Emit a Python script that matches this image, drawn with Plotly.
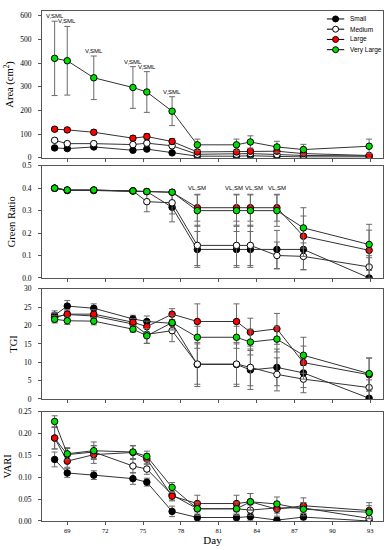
import plotly.graph_objects as go
from plotly.subplots import make_subplots

days = [68, 69, 71.1, 74.2, 75.3, 77.3, 79.3, 82.4, 83.5, 85.6, 87.7, 92.9]
x_ticks = [69, 72, 75, 78, 81, 84, 87, 90, 93]
series_names = ["Small", "Medium", "Large", "Very Large"]

# Area (cm2)
area_small = [42, 39, 46, 32, 37, 21, 7, 7, 9, 6, 4, 4]
area_small_err = [5, 5, 6, 5, 6, 5, 3, 3, 3, 3, 3, 3]
area_medium = [74, 60, 60, 56, 62, 51, 15, 15, 18, 14, 10, 8]
area_medium_err = [8, 6, 6, 6, 8, 8, 5, 5, 5, 5, 5, 5]
area_large = [121, 118, 108, 83, 90, 69, 25, 25, 28, 28, 18, 10]
area_large_err = [8, 8, 10, 10, 12, 12, 8, 8, 8, 8, 8, 6]
area_vlarge = [420, 410, 338, 297, 278, 197, 55, 55, 67, 46, 35, 49]
area_vlarge_err = [157, 145, 92, 88, 86, 61, 24, 24, 26, 24, 22, 30]

# Green Ratio
gr_small = [0.40, 0.39, 0.39, 0.388, 0.385, 0.315, 0.127, 0.127, 0.127, 0.127, 0.127, 0.0]
gr_small_err = [0.005, 0.005, 0.005, 0.005, 0.01, 0.065, 0.08, 0.08, 0.08, 0.085, 0.09, 0.09]
gr_medium = [0.40, 0.39, 0.39, 0.388, 0.34, 0.335, 0.145, 0.145, 0.145, 0.10, 0.096, 0.049]
gr_medium_err = [0.005, 0.005, 0.005, 0.005, 0.045, 0.05, 0.09, 0.09, 0.09, 0.06, 0.06, 0.05]
gr_large = [0.40, 0.392, 0.392, 0.388, 0.385, 0.382, 0.313, 0.313, 0.313, 0.313, 0.186, 0.123]
gr_large_err = [0.005, 0.005, 0.005, 0.005, 0.005, 0.005, 0.06, 0.06, 0.06, 0.06, 0.09, 0.09]
gr_vlarge = [0.40, 0.392, 0.392, 0.388, 0.385, 0.382, 0.30, 0.30, 0.30, 0.30, 0.223, 0.149]
gr_vlarge_err = [0.005, 0.005, 0.005, 0.005, 0.005, 0.005, 0.07, 0.07, 0.07, 0.07, 0.09, 0.09]

# TGI
tgi_small = [22.8, 25.3, 24.7, 21.8, 21.1, 20.6, 9.4, 9.4, 7.9, 8.6, 7.1, 0.2]
tgi_small_err = [1.2, 1.5, 1.2, 1.0, 1.5, 2.0, 6, 6, 5.3, 5, 4, 5]
tgi_medium = [22.3, 23.0, 22.6, 20.4, 17.6, 18.6, 9.5, 9.5, 8.6, 6.7, 5.4, 3.1]
tgi_medium_err = [1.2, 1.2, 1.2, 1.0, 2.5, 3.0, 5.5, 5.5, 5, 4.5, 3.7, 3.5]
tgi_large = [22.2, 23.1, 23.1, 20.9, 19.7, 23.1, 21.1, 21.1, 18.2, 19.1, 9.9, 6.6]
tgi_large_err = [1.2, 1.2, 1.2, 1.0, 1.5, 1.5, 4.8, 4.8, 3.8, 4.2, 4.5, 4.5]
tgi_vlarge = [21.7, 21.3, 21.2, 19.0, 17.2, 20.8, 16.8, 16.8, 15.5, 16.3, 11.9, 6.9]
tgi_vlarge_err = [1, 1, 1, 0.8, 2, 2, 3, 3, 3.5, 3.5, 4.9, 4.3]

# VARI
vari_small = [0.141, 0.110, 0.105, 0.097, 0.089, 0.022, 0.008, 0.008, 0.010, 0.002, 0.009, 0.0]
vari_small_err = [0.017, 0.01, 0.01, 0.013, 0.009, 0.012, 0.006, 0.006, 0.008, 0.005, 0.006, 0.005]
vari_medium = [0.19, 0.152, 0.158, 0.126, 0.119, 0.06, 0.028, 0.028, 0.025, 0.03, 0.03, 0.006]
vari_medium_err = [0.025, 0.014, 0.015, 0.015, 0.012, 0.012, 0.012, 0.012, 0.012, 0.012, 0.012, 0.01]
vari_large = [0.19, 0.137, 0.152, 0.157, 0.142, 0.057, 0.04, 0.04, 0.044, 0.027, 0.035, 0.024]
vari_large_err = [0.025, 0.014, 0.02, 0.015, 0.012, 0.011, 0.019, 0.019, 0.019, 0.016, 0.018, 0.018]
vari_vlarge = [0.228, 0.154, 0.161, 0.158, 0.148, 0.077, 0.028, 0.028, 0.044, 0.039, 0.027, 0.02]
vari_vlarge_err = [0.013, 0.014, 0.02, 0.015, 0.012, 0.011, 0.015, 0.015, 0.019, 0.016, 0.015, 0.015]

area_sig_idx = [0, 1, 2, 3, 4, 5]
area_sig_label = "V,SML"
gr_sig_idx = [6, 7, 8, 9]
gr_sig_label = "VL,SM"
gr_sig_xshift = [0, -3, 4, 0]

fills = ["#000000", "#ffffff", "#ff0000", "#00dd00"]

panels = [
    ("Area (cm<sup>2</sup>)", [area_small, area_medium, area_large, area_vlarge],
     [area_small_err, area_medium_err, area_large_err, area_vlarge_err], [0, 620], 100, None),
    ("Green Ratio", [gr_small, gr_medium, gr_large, gr_vlarge],
     [gr_small_err, gr_medium_err, gr_large_err, gr_vlarge_err], [0, 0.5], 0.1, ".1f"),
    ("TGI", [tgi_small, tgi_medium, tgi_large, tgi_vlarge],
     [tgi_small_err, tgi_medium_err, tgi_large_err, tgi_vlarge_err], [0, 30], 5, None),
    ("VARI", [vari_small, vari_medium, vari_large, vari_vlarge],
     [vari_small_err, vari_medium_err, vari_large_err, vari_vlarge_err], [0, 0.25], 0.05, ".2f"),
]

fig = make_subplots(rows=4, cols=1, shared_xaxes=False)
serif = "Liberation Serif"
sans = "Liberation Sans"
line_col = "#333333"
axis_col = "#555555"
err_col = "#6a6a6a"
msize = 6.5

for r, (title, vals, errs, yr, dt, fmt) in enumerate(panels, start=1):
    for i, name in enumerate(series_names):
        fig.add_trace(go.Scatter(
            x=days, y=vals[i], name=name, showlegend=False,
            mode="lines+markers",
            line=dict(color=line_col, width=1),
            marker=dict(size=msize, color=fills[i], line=dict(color="#000000", width=1)),
            error_y=dict(type="data", array=errs[i], color=err_col, thickness=1, width=3),
        ), row=r, col=1)
    fig.update_yaxes(row=r, col=1, range=yr, dtick=dt, tick0=0, tickformat=fmt,
                     title=dict(text=title, font=dict(family=serif, size=10.5, color="#000"), standoff=4),
                     showgrid=False, zeroline=False, showline=True, mirror=True,
                     linecolor=axis_col, linewidth=1, ticks="outside", ticklen=3,
                     tickcolor=axis_col, ticklabelstandoff=5,
                     tickfont=dict(family=serif, size=7.5, color="#000"))
    fig.update_xaxes(row=r, col=1, range=[67, 94], tickvals=x_ticks,
                     showticklabels=(r == 4), showgrid=False, zeroline=False,
                     showline=True, mirror=True, linecolor=axis_col, linewidth=1,
                     ticks="outside", ticklen=3, tickcolor=axis_col,
                     tickfont=dict(family=serif, size=6.5, color="#000"))

fig.update_xaxes(row=4, col=1, title=dict(text="Day", font=dict(family=serif, size=11, color="#000"), standoff=2))

# panel domains (pixel rows of the reference)
H = 514.0
def dom(top, bot):
    return [1 - (bot - 7) / H, 1 - (top - 7) / H]
fig.update_layout(
    yaxis=dict(domain=dom(7, 155)),
    yaxis2=dict(domain=dom(163, 276)),
    yaxis3=dict(domain=dom(287, 398)),
    yaxis4=dict(domain=dom(411, 521)),
)

for i in area_sig_idx:
    fig.add_annotation(x=days[i], y=area_vlarge[i] + area_vlarge_err[i], text=area_sig_label,
                       showarrow=False, yanchor="bottom", yshift=0, xref="x", yref="y",
                       font=dict(family=sans, size=6, color="#000"))
for k, i in enumerate(gr_sig_idx):
    top = max(gr_large[i] + gr_large_err[i], gr_vlarge[i] + gr_vlarge_err[i])
    fig.add_annotation(x=days[i], y=top, text=gr_sig_label, xshift=gr_sig_xshift[k],
                       showarrow=False, yanchor="bottom", yshift=1, xref="x2", yref="y2",
                       font=dict(family=sans, size=6, color="#000"))

# compact legend drawn in its own small overlay axis (top-right of the Area panel)
leg_x_dom = [(326 - 42) / 342, (384 - 42) / 342]
leg_y_dom = dom(9, 52)
fig.update_layout(
    xaxis5=dict(domain=leg_x_dom, range=[0, 1], visible=False, anchor="y5", fixedrange=True),
    yaxis5=dict(domain=leg_y_dom, range=[0, 1], visible=False, anchor="x5", fixedrange=True),
)
leg_rows = [0.86, 0.62, 0.38, 0.14]
leg_line_x = [0.03, 0.33]
leg_mark_x = 0.18
leg_text_x = 0.40
for i, name in enumerate(series_names):
    yv = leg_rows[i]
    fig.add_trace(go.Scatter(x=leg_line_x, y=[yv, yv], mode="lines", xaxis="x5", yaxis="y5",
                             line=dict(color="#000", width=1), showlegend=False, hoverinfo="skip"))
    fig.add_trace(go.Scatter(x=[leg_mark_x], y=[yv], mode="markers", xaxis="x5", yaxis="y5",
                             marker=dict(size=6, color=fills[i], line=dict(color="#000", width=1)),
                             showlegend=False, hoverinfo="skip"))
    fig.add_annotation(x=leg_text_x, y=yv, xref="x5", yref="y5", text=name, showarrow=False,
                       xanchor="left", yanchor="middle",
                       font=dict(family=sans, size=6.5, color="#000"))

fig.update_layout(
    width=391, height=550,
    margin=dict(l=42, r=7, t=7, b=29),
    paper_bgcolor="white", plot_bgcolor="white",
    showlegend=False,
)

fig.write_html("out.html", config={"displayModeBar": False},
               post_script="document.body.style.margin='0';")
